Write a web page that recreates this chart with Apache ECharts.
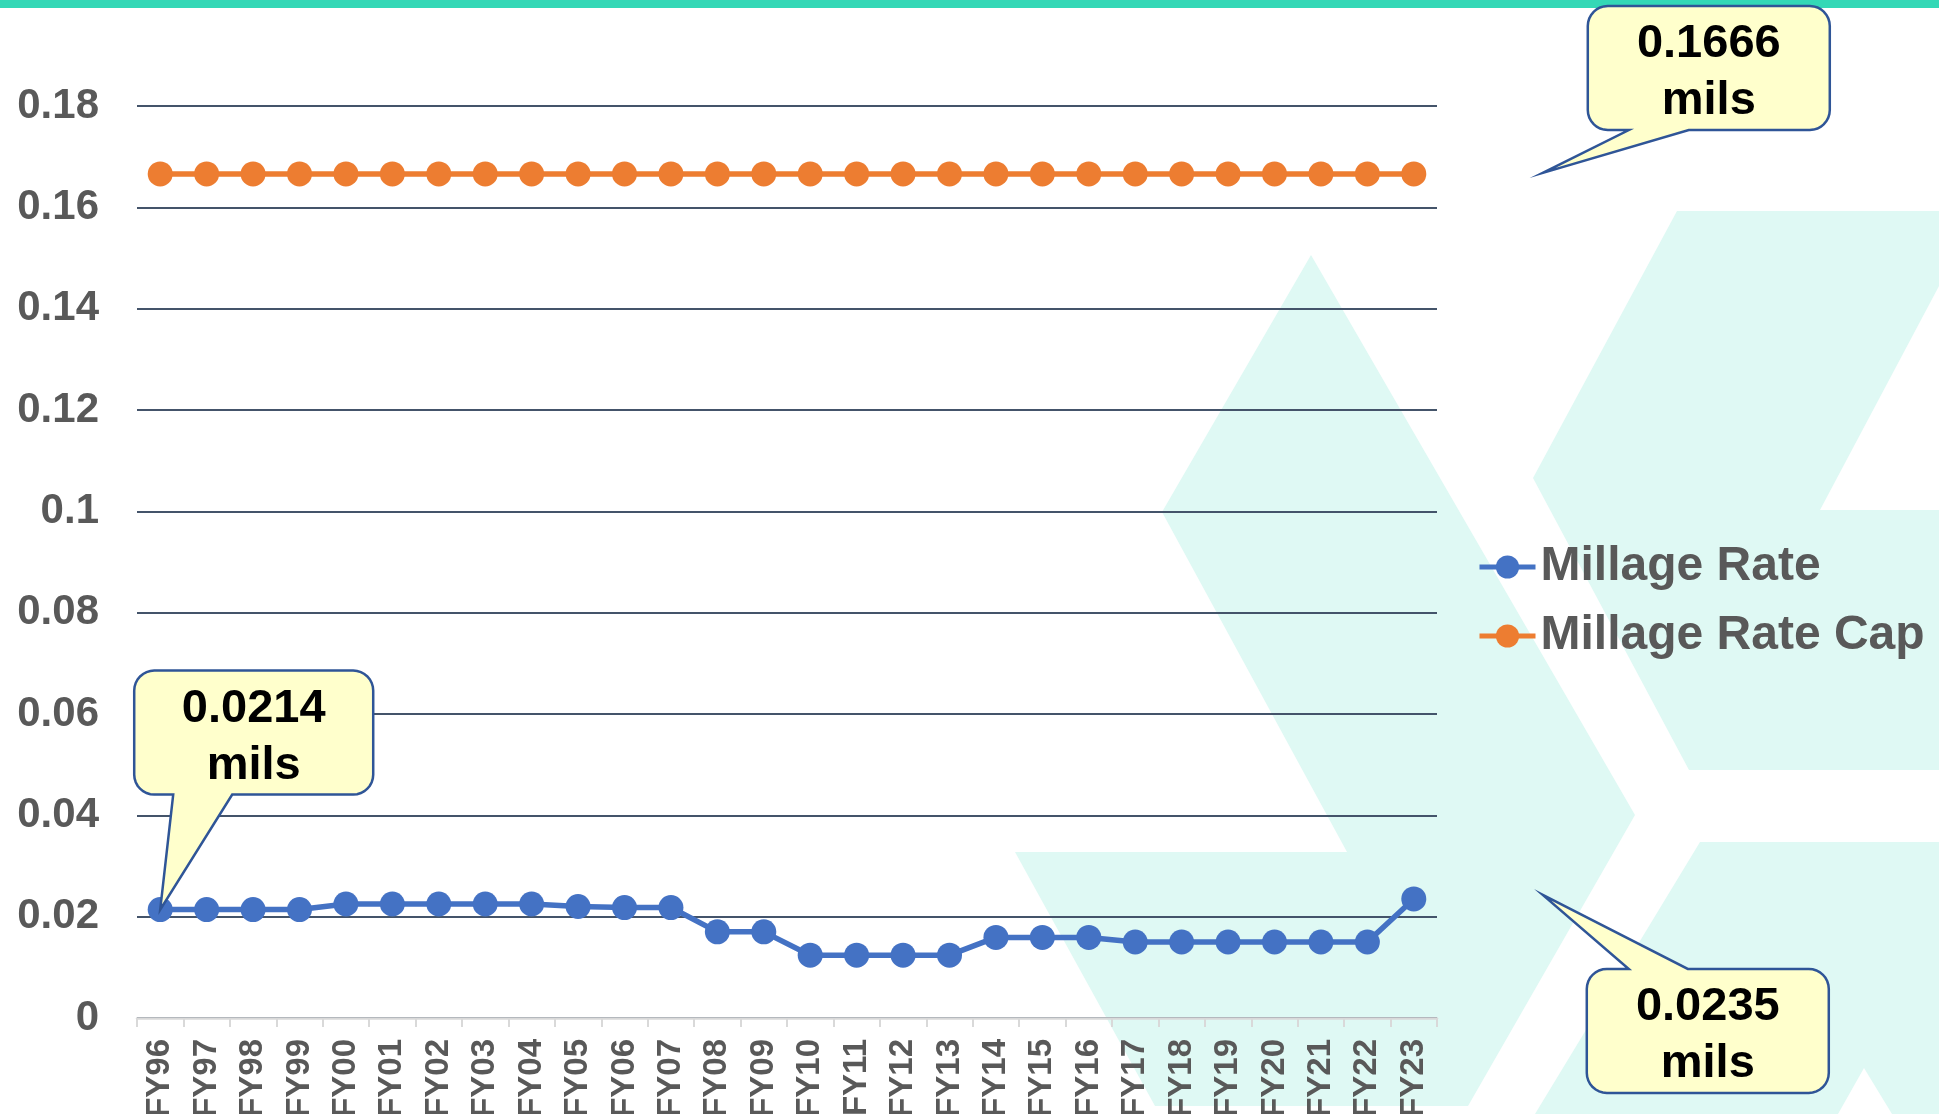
<!DOCTYPE html>
<html>
<head>
<meta charset="utf-8">
<script src="https://cdn.jsdelivr.net/npm/echarts@6/dist/echarts.min.js"></script>
<style>
html,body{margin:0;padding:0;background:#fff;}
#chart{width:1939px;height:1114px;}
</style>
</head>
<body>
<div id="chart"></div>
<script>
const categories = ['FY96','FY97','FY98','FY99','FY00','FY01','FY02','FY03','FY04','FY05','FY06','FY07','FY08','FY09','FY10','FY11','FY12','FY13','FY14','FY15','FY16','FY17','FY18','FY19','FY20','FY21','FY22','FY23'];
const millageRate = [0.0214,0.0214,0.0214,0.0214,0.0225,0.0225,0.0225,0.0225,0.0225,0.0220,0.0218,0.0218,0.0170,0.0170,0.0124,0.0124,0.0124,0.0124,0.0159,0.0159,0.0159,0.0150,0.0150,0.0150,0.0150,0.0150,0.0150,0.0235];
const millageRateCap = [0.1666,0.1666,0.1666,0.1666,0.1666,0.1666,0.1666,0.1666,0.1666,0.1666,0.1666,0.1666,0.1666,0.1666,0.1666,0.1666,0.1666,0.1666,0.1666,0.1666,0.1666,0.1666,0.1666,0.1666,0.1666,0.1666,0.1666,0.1666];
const seriesNames = ['Millage Rate','Millage Rate Cap'];
const yMin = 0, yMax = 0.18, yStep = 0.02;
const callouts = [
  {series:0, index:0, text:['0.0214','mils']},
  {series:1, index:27, text:['0.1666','mils']},
  {series:0, index:27, text:['0.0235','mils']}
];

const FONT = '"Liberation Sans", Arial, sans-serif';
const chart = echarts.init(document.getElementById('chart'), null, {renderer:'canvas'});

const bgColor = '#dff9f4';
const background = [
  {type:'rect', id:'topbar', shape:{x:0,y:0,width:1939,height:8}, style:{fill:'#34d8b6'}, z:-5},
  {type:'polygon', id:'bgA', shape:{points:[[1311,255],[1635,815],[1468,1106],[1155,1106],[1015,852],[1347,852],[1162,512]]}, style:{fill:bgColor}, z:-10},
  {type:'polygon', id:'bgB', shape:{points:[[1677,211],[1939,211],[1939,286],[1820,510],[1939,510],[1939,770],[1689,770],[1533,478]]}, style:{fill:bgColor}, z:-10},
  {type:'polygon', id:'bgD', shape:{points:[[1700,842],[1939,842],[1939,1114],[1892,1114],[1864,1068],[1838,1114],[1535,1114]]}, style:{fill:bgColor}, z:-10}
];

const option = {
  animation:false,
  backgroundColor:'#ffffff',
  textStyle:{fontFamily:FONT},
  grid:{left:137, right:502, top:106, bottom:96, containLabel:false, outerBoundsMode:'none'},
  legend:{
    orient:'vertical', left:1477, top:539, padding:0,
    itemWidth:56, itemHeight:29, itemGap:13,
    data:seriesNames,
    lineStyle:{width:5},
    textStyle:{fontFamily:FONT, fontSize:48, fontWeight:'bold', color:'#595959', lineHeight:56}
  },
  xAxis:{
    type:'category', data:categories, boundaryGap:true, z:3,
    axisLine:{show:true, lineStyle:{color:'#d9d9d9', width:2.5}},
    axisTick:{show:true, length:9, lineStyle:{color:'#d9d9d9', width:2}},
    axisLabel:{interval:0, rotate:90, margin:21, fontFamily:FONT, fontSize:33, fontWeight:'bold', color:'#595959'},
    splitLine:{show:false}
  },
  yAxis:{
    type:'value', min:yMin, max:yMax, interval:yStep, z:1,
    axisLine:{show:false}, axisTick:{show:false},
    axisLabel:{margin:38, fontFamily:FONT, fontSize:42, fontWeight:'bold', color:'#595959',
      formatter:v => String(+(+v).toFixed(4))},
    splitLine:{show:true, lineStyle:{color:'#44546a', width:2}}
  },
  series:[
    {name:seriesNames[0], type:'line', data:millageRate, symbol:'circle', symbolSize:25,
     itemStyle:{color:'#4472c4'}, lineStyle:{color:'#4472c4', width:5.5}, z:4},
    {name:seriesNames[1], type:'line', data:millageRateCap, symbol:'circle', symbolSize:25,
     itemStyle:{color:'#ed7d31'}, lineStyle:{color:'#ed7d31', width:5.5}, z:4}
  ],
  graphic:background
};
chart.setOption(option);

function roundedCorner(cx, cy, r, a0, a1, n){
  const pts=[];
  for(let i=0;i<=n;i++){
    const a=a0+(a1-a0)*i/n;
    pts.push([cx+r*Math.cos(a), cy+r*Math.sin(a)]);
  }
  return pts;
}
function calloutPoints(L,T,R,B,r,side,p1,p2,tip){
  const pts=[];
  const n=8, PI=Math.PI;
  pts.push(...roundedCorner(L+r,T+r,r,PI,1.5*PI,n));
  if(side==='top'){ pts.push([p1,T],tip,[p2,T]); }
  pts.push(...roundedCorner(R-r,T+r,r,1.5*PI,2*PI,n));
  pts.push(...roundedCorner(R-r,B-r,r,0,0.5*PI,n));
  if(side==='bottom'){ pts.push([p2,B],tip,[p1,B]); }
  pts.push(...roundedCorner(L+r,B-r,r,0.5*PI,PI,n));
  return pts;
}

const seriesData=[millageRate, millageRateCap];
const extra=[];
callouts.forEach((c,k)=>{
  const a = chart.convertToPixel({seriesIndex:c.series},[categories[c.index], seriesData[c.series][c.index]]);
  const ax=a[0], ay=a[1];
  let L,T,R,B,side,p1,p2,tip;
  if(k===0){
    L=ax-26; R=ax+213; T=ay-239; B=ay-115; side='bottom'; p1=ax+13; p2=ax+72; tip=[ax,ay];
  } else if(k===1){
    L=ax+174; R=ax+416; T=6; B=130; side='bottom'; p1=ax+215; p2=ax+275; tip=[ax+129,ay-1];
  } else {
    L=ax+173; R=ax+415; T=ay+70; B=ay+194; side='top'; p1=ax+215; p2=ax+274; tip=[ax+129,ay-4];
  }
  const cx=(L+R)/2, cy=(T+B)/2;
  extra.push({type:'polygon', id:'callout'+k, z:50,
    shape:{points:calloutPoints(L,T,R,B,20,side,p1,p2,tip)},
    style:{fill:'#ffffcc', stroke:'#2f5597', lineWidth:2.5, lineJoin:'miter', miterLimit:20}});
  extra.push({type:'text', id:'ct'+k+'a', z:51, x:cx, y:cy-24,
    style:{text:c.text[0], font:'bold 47px '+FONT, fill:'#000000', align:'center', verticalAlign:'middle', textAlign:'center', textVerticalAlign:'middle'}});
  extra.push({type:'text', id:'ct'+k+'b', z:51, x:cx, y:cy+33,
    style:{text:c.text[1], font:'bold 47px '+FONT, fill:'#000000', align:'center', verticalAlign:'middle', textAlign:'center', textVerticalAlign:'middle'}});
});
chart.setOption({graphic:background.concat(extra)});
</script>
</body>
</html>
